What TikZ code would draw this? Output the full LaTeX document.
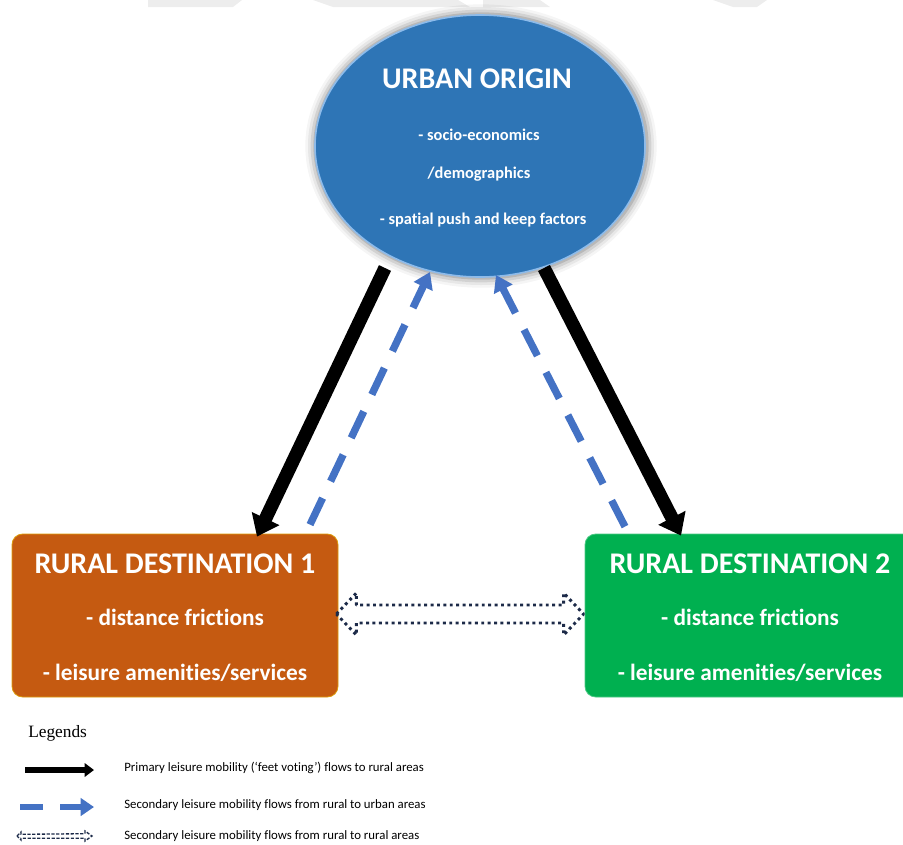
\documentclass[tikz,border=0pt]{standalone}
\usepackage{fontspec}
\setmainfont{Carlito}[Ligatures={NoCommon,NoContextual}]
\newfontfamily\legserif{Liberation Serif}
\usetikzlibrary{arrows.meta,shapes.geometric,calc}
\definecolor{ublue}{HTML}{2E75B6}
\definecolor{urim}{HTML}{8DBBEA}
\definecolor{rorange}{HTML}{C55A11}
\definecolor{rgreen}{HTML}{00B050}
\definecolor{ablue}{HTML}{4472C4}
\definecolor{navy}{HTML}{1C2A48}
\definecolor{wmark}{HTML}{EDEDED}
\begin{document}
\begin{tikzpicture}[x=0.75pt,y=-0.75pt,
  ttl/.style={text=white,font=\bfseries\fontsize{22.5}{24}\selectfont,inner sep=0,anchor=base},
  boxline/.style={text=white,font=\bfseries\fontsize{17.5}{20}\selectfont,inner sep=0,anchor=base},
  ovline/.style={text=white,font=\bfseries\fontsize{12.3}{14}\selectfont,inner sep=0,anchor=base},
  legtxt/.style={text=black,font=\fontsize{9.6}{11}\selectfont,inner sep=0,anchor=west},
  primary/.style={draw=black,line width=10pt,-{Triangle[width=22pt,length=15pt]}},
  secondary/.style={draw=ablue,line width=5.5pt,dash pattern=on 22pt off 14pt,-{Triangle[width=15pt,length=12pt]}},
  dotarrow/.style={draw=navy,line width=2.2pt,dash pattern=on 2.2pt off 2.6pt,line join=round},
  rbox/.style={rectangle,rounded corners=8pt,inner sep=0,minimum height=122.25pt}
]
\useasboundingbox (0,0) rectangle (903,844);
% faint background marks at the top edge
\fill[wmark] (148,0) -- (242,0) -- (233,7) -- (148,7) -- cycle;
\fill[wmark] (313,0) -- (458,0) -- (470,7) -- (333,7) -- cycle;
\fill[wmark] (483,0) -- (540,0) -- (550,7) -- (483,7) -- cycle;
\fill[wmark] (713,0) -- (767,0) -- (757,7) -- (733,7) -- cycle;

% urban origin ellipse with soft shadow
\foreach \s/\o in {16/0.04,12/0.06,8/0.09,4/0.12}{
  \node[ellipse,fill=black,opacity=\o,inner sep=0,minimum width={247.5pt+\s pt},minimum height={196.5pt+\s pt}] at (481,146) {};
}
\node[ellipse,fill=ublue,draw=urim,line width=1.2pt,inner sep=0,minimum width=247.5pt,minimum height=196.5pt] (uo) at (480,146) {};
\node[ttl] (uot) at (477,88) {URBAN ORIGIN};
\node[ovline] (uo1) at (479,140) {- socio-economics};
\node[ovline] (uo2) at (479,178) {/demographics};
\node[ovline] (uo3) at (483,224) {- spatial push and keep factors};

% rural destinations
\node[rbox,fill=rorange,draw=rorange!60!yellow,line width=0.6pt,minimum width=244.5pt] (r1) at (175,615.5) {};
\node[rbox,fill=rgreen,draw=rgreen!70!white,line width=0.6pt,minimum width=247.5pt] (r2) at (750,615.5) {};
\node[ttl] (r1t) at (175,573) {RURAL DESTINATION 1};
\node[boxline] (r1a) at (175,625) {- distance frictions};
\node[boxline] (r1b) at (175,680) {- leisure amenities/services};
\node[ttl] (r2t) at (750,573) {RURAL DESTINATION 2};
\node[boxline] (r2a) at (750,625) {- distance frictions};
\node[boxline] (r2b) at (750,680) {- leisure amenities/services};

% connector end points
\coordinate (b1s) at ($(uo.center)+(-95,122)$);
\coordinate (b1e) at ($(r1.north)+(82,3)$);
\coordinate (s1s) at ($(r1.north)+(135,-9)$);
\coordinate (s1e) at ($(uo.center)+(-50,126)$);
\coordinate (b2s) at ($(uo.center)+(64,122)$);
\coordinate (b2e) at ($(r2.north)+(-69,2)$);
\coordinate (s2s) at ($(r2.north)+(-125,-7)$);
\coordinate (s2e) at ($(uo.center)+(16,129)$);

\draw[secondary] (s1s) -- (s1e);
\draw[secondary] (s2s) -- (s2e);
\draw[primary] (b1s) -- (b1e);
\draw[primary] (b2s) -- (b2e);

% rural to rural dotted double arrow
\coordinate (dl) at ($(r1.east)+(-2,-1.5)$);
\coordinate (dr) at ($(r2.west)+(-1,-1.5)$);
\draw[dotarrow] (dl) -- ++(20,-21) -- ++(0,12) -- ($(dr)+(-20,-9)$) -- ++(0,-12) -- (dr)
  -- ++(-20,21) -- ++(0,-12) -- ($(dl)+(20,9)$) -- ++(0,12) -- cycle;

% legend
\node[font=\legserif\fontsize{13}{15}\selectfont,inner sep=0,anchor=base west] (leg) at (28,737) {Legends};
\coordinate (l1s) at (25,770); \coordinate (l1e) at (94,770);
\draw[draw=black,line width=3.8pt,-{Triangle[width=10pt,length=7pt]}] (l1s) -- (l1e);
\node[legtxt] (lt1) at (124,768) {Primary leisure mobility (‘feet voting’) flows to rural areas};
\coordinate (l2s) at (20,807); \coordinate (l2e) at (94,807);
\draw[draw=ablue,line width=5pt,dash pattern=on 17.25pt off 12.75pt,-{Triangle[width=13pt,length=10pt]}] (l2s) -- (l2e);
\node[legtxt] (lt2) at (124,805) {Secondary leisure mobility flows from rural to urban areas};
\coordinate (l3s) at (17,836); \coordinate (l3e) at (92,836);
\draw[draw=navy,line width=1pt,dash pattern=on 2.4pt off 1.2pt] (l3s) -- ++(4,-4) -- ++(0,2.3) -- ($(l3e)+(-7,-2.3)$) -- ++(0,-2.7) -- (l3e)
  -- ++(-7,5) -- ++(0,-2.7) -- ($(l3s)+(4,2.3)$) -- ++(0,1.7) -- cycle;
\node[legtxt] (lt3) at (124,836.5) {Secondary leisure mobility flows from rural to rural areas};
\end{tikzpicture}
\end{document}
